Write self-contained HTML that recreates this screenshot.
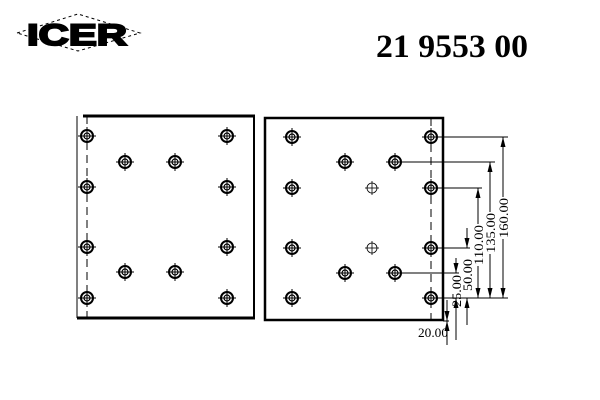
<!DOCTYPE html>
<html><head><style>
html,body{margin:0;padding:0;background:#fff;}
svg{display:block}
</style></head><body>
<svg width="600" height="400" viewBox="0 0 600 400" xmlns="http://www.w3.org/2000/svg">
<defs>
<g id="h">
<circle r="6" fill="none" stroke="#000" stroke-width="2"/>
<circle r="3" fill="none" stroke="#000" stroke-width="1.2"/>
<line x1="-9" y1="0" x2="9" y2="0" stroke="#000" stroke-width="1"/>
<line x1="0" y1="-9" x2="0" y2="9" stroke="#000" stroke-width="1"/>
</g>
<g id="s">
<circle r="5" fill="none" stroke="#000" stroke-width="0.8"/>
<line x1="-7" y1="0" x2="7" y2="0" stroke="#000" stroke-width="0.8"/>
<line x1="0" y1="-7" x2="0" y2="7" stroke="#000" stroke-width="0.8"/>
</g>
<marker id="a" markerWidth="11" markerHeight="5" refX="10" refY="2.5" orient="auto-start-reverse" markerUnits="userSpaceOnUse"><path d="M0,0 L10,2.5 L0,5z" fill="#000"/></marker>
</defs>
<!-- logo -->
<polygon points="17,33 78,14 140,33 78,51" fill="none" stroke="#000" stroke-width="1" stroke-dasharray="3,3"/>
<text x="77" y="45" text-anchor="middle" font-family="Liberation Sans, sans-serif" font-weight="bold" font-size="30" textLength="100" lengthAdjust="spacingAndGlyphs" stroke="#000" stroke-width="2">ICER</text>
<text x="452" y="57" text-anchor="middle" font-family="Liberation Serif, serif" font-weight="bold" font-size="33" textLength="152" lengthAdjust="spacingAndGlyphs">21 9553 00</text>
<!-- left panel -->
<g fill="none" stroke="#000">
<line x1="77" y1="116" x2="77" y2="318" stroke-width="1"/>
<line x1="83" y1="116" x2="255" y2="116" stroke-width="3"/>
<line x1="77" y1="318" x2="255" y2="318" stroke-width="3"/>
<line x1="254" y1="116" x2="254" y2="319" stroke-width="2"/>
<line x1="87" y1="116" x2="87" y2="319" stroke-width="1" stroke-dasharray="8,5"/>
<!-- right panel -->
<rect x="265" y="118" width="178" height="202" stroke-width="2.5"/>
<line x1="431" y1="118" x2="431" y2="325" stroke-width="1" stroke-dasharray="8,5"/>
</g>
<g>
<use href="#h" x="87" y="136"/><use href="#h" x="87" y="187"/><use href="#h" x="87" y="247"/><use href="#h" x="87" y="298"/>
<use href="#h" x="227" y="136"/><use href="#h" x="227" y="187"/><use href="#h" x="227" y="247"/><use href="#h" x="227" y="298"/>
<use href="#h" x="125" y="162"/><use href="#h" x="175" y="162"/><use href="#h" x="125" y="272"/><use href="#h" x="175" y="272"/>
<use href="#h" x="292" y="137"/><use href="#h" x="292" y="188"/><use href="#h" x="292" y="248"/><use href="#h" x="292" y="298"/>
<use href="#h" x="431" y="137"/><use href="#h" x="431" y="188"/><use href="#h" x="431" y="248"/><use href="#h" x="431" y="298"/>
<use href="#h" x="345" y="162"/><use href="#h" x="395" y="162"/><use href="#h" x="345" y="273"/><use href="#h" x="395" y="273"/>
<use href="#s" x="372" y="188"/><use href="#s" x="372" y="248"/>
</g>
<!-- dimensions -->
<g stroke="#000" stroke-width="1" fill="none">
<line x1="437" y1="137" x2="508" y2="137"/>
<line x1="401" y1="162" x2="495" y2="162"/>
<line x1="437" y1="188" x2="482" y2="188"/>
<line x1="437" y1="248" x2="470" y2="248"/>
<line x1="401" y1="273" x2="459" y2="273"/>
<line x1="437" y1="298" x2="508" y2="298"/>
<line x1="443" y1="321" x2="449" y2="321"/>
<line x1="503" y1="137" x2="503" y2="298" marker-start="url(#a)" marker-end="url(#a)"/>
<line x1="490" y1="162" x2="490" y2="298" marker-start="url(#a)" marker-end="url(#a)"/>
<line x1="478" y1="188" x2="478" y2="298" marker-start="url(#a)" marker-end="url(#a)"/>
<line x1="467" y1="228" x2="467" y2="248" marker-end="url(#a)"/>
<line x1="456" y1="258" x2="456" y2="273" marker-end="url(#a)"/>
<line x1="456" y1="340" x2="456" y2="298" marker-end="url(#a)"/>
<line x1="467" y1="325" x2="467" y2="298" marker-end="url(#a)"/>
<line x1="447" y1="300" x2="447" y2="321" marker-end="url(#a)"/>
<line x1="447" y1="345" x2="447" y2="321" marker-end="url(#a)"/>
</g>
<g fill="#fff">
<rect x="497" y="197" width="12" height="42"/>
<rect x="484" y="212" width="12" height="42"/>
<rect x="472" y="224" width="12" height="42"/>
<rect x="461" y="259" width="12" height="33"/>
</g>
<g font-family="Liberation Serif, serif" font-size="13" fill="#000" text-anchor="middle">
<text transform="translate(508,218) rotate(-90)" textLength="40" lengthAdjust="spacingAndGlyphs">160.00</text>
<text transform="translate(495,233) rotate(-90)" textLength="40" lengthAdjust="spacingAndGlyphs">135.00</text>
<text transform="translate(483,245) rotate(-90)" textLength="40" lengthAdjust="spacingAndGlyphs">110.00</text>
<text transform="translate(472,275) rotate(-90)" textLength="32" lengthAdjust="spacingAndGlyphs">50.00</text>
<text transform="translate(461,291) rotate(-90)" textLength="32" lengthAdjust="spacingAndGlyphs">25.00</text>
<text x="433" y="337" textLength="30" lengthAdjust="spacingAndGlyphs">20.00</text>
</g>
</svg>
</body></html>
